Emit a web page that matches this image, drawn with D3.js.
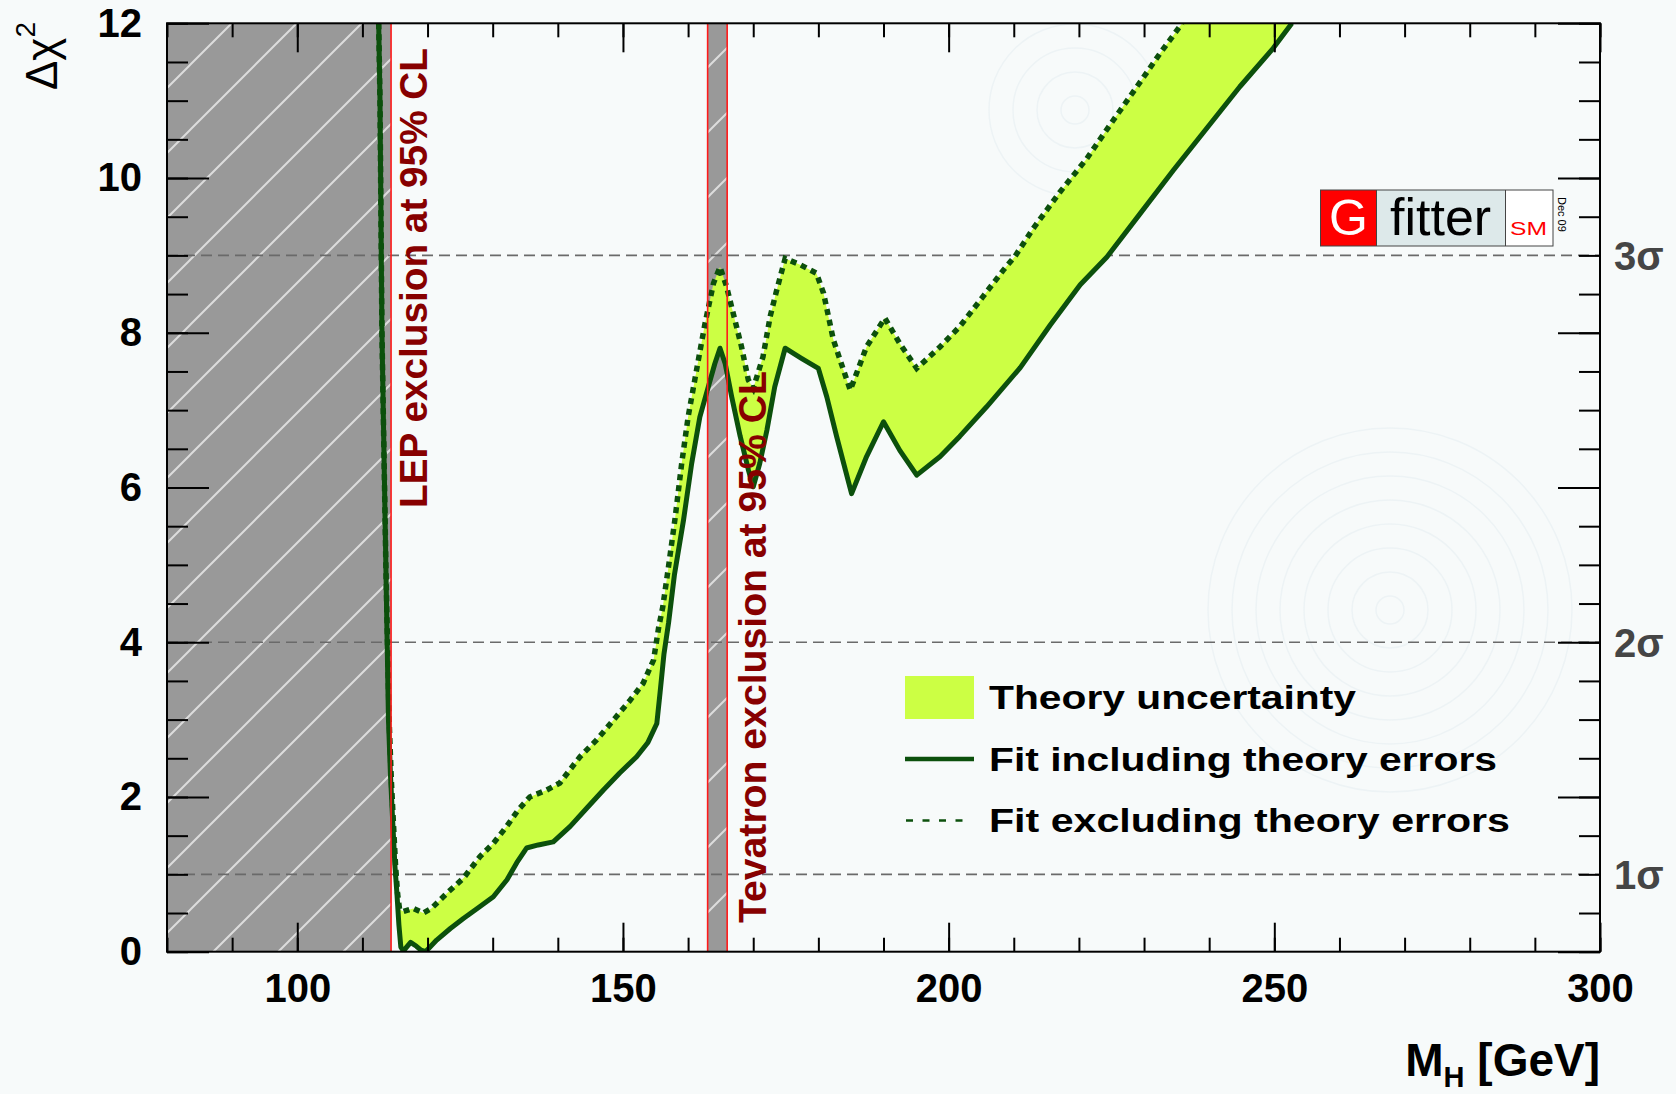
<!DOCTYPE html>
<html>
<head>
<meta charset="utf-8">
<script src="https://cdn.jsdelivr.net/npm/d3@7"></script>
<style>
  html, body { margin: 0; padding: 0; background: #f7fafa; }
  svg { display: block; font-family: "Liberation Sans", Helvetica, Arial, sans-serif; }
</style>
</head>
<body>
<svg id="chart" width="1676" height="1094"></svg>
<script>
// ---- data (M_H in GeV, delta chi2) ----
// fit including theory errors (solid, lower edge of the band)
const fitWithTheory = [
  [112.5, 12.0], [112.7, 11.0], [112.8, 10.0], [112.9, 9.0], [113.0, 8.0], [113.2, 7.0],
  [113.4, 6.0], [113.6, 5.0], [113.8, 4.0], [114.0, 3.0], [114.3, 2.3], [114.7, 1.6],
  [115.0, 1.1], [115.3, 0.75], [115.6, 0.35], [115.9, 0.06], [116.3, 0.01], [117.4, 0.12],
  [118.3, 0.07], [119.0, 0.02], [119.7, 0.0], [121.4, 0.15], [123.5, 0.30], [125.5, 0.43],
  [128.0, 0.58], [130.1, 0.71], [132.2, 0.93], [133.7, 1.15], [135.2, 1.34], [137.0, 1.38],
  [139.3, 1.42], [141.9, 1.62], [144.5, 1.86], [147.0, 2.09], [149.5, 2.31], [152.1, 2.52],
  [153.8, 2.70], [155.2, 2.95], [155.7, 3.35], [156.3, 3.85], [157.0, 4.25], [157.9, 4.87],
  [159.3, 5.58], [160.55, 6.31], [161.8, 6.91], [163.1, 7.30], [164.1, 7.60], [164.9, 7.80],
  [165.7, 7.60], [166.7, 7.17], [168.0, 6.66], [169.25, 6.23], [170.0, 6.01], [171.0, 6.31],
  [172.1, 6.74], [173.3, 7.30], [174.9, 7.80], [177.4, 7.67], [180.0, 7.54], [181.3, 7.17],
  [182.8, 6.66], [185.1, 5.92], [187.4, 6.40], [190.0, 6.85], [192.5, 6.48], [195.1, 6.16],
  [198.7, 6.40], [201.7, 6.66], [205.8, 7.04], [211.0, 7.55], [215.6, 8.10], [220.2, 8.62],
  [224.3, 8.98], [229.4, 9.54], [234.5, 10.10], [239.6, 10.64], [244.7, 11.18], [249.85, 11.68],
  [252.7, 12.0]
];
// fit excluding theory errors (dotted, upper edge of the band)
const fitWithoutTheory = [
  [112.5, 12.0], [112.7, 11.0], [112.8, 10.0], [112.9, 9.0], [113.0, 8.0], [113.2, 7.0],
  [113.4, 6.0], [113.6, 5.0], [113.85, 4.0], [114.1, 3.0], [114.45, 2.2], [114.8, 1.6],
  [115.1, 1.1], [115.4, 0.75], [115.7, 0.55], [116.3, 0.52], [117.8, 0.56], [119.35, 0.50],
  [120.6, 0.56], [122.9, 0.75], [125.5, 0.95], [128.05, 1.23], [130.1, 1.40], [132.15, 1.62],
  [133.9, 1.83], [135.7, 2.00], [138.3, 2.09], [140.3, 2.18], [143.4, 2.52], [146.0, 2.74],
  [149.0, 3.04], [151.1, 3.25], [153.1, 3.47], [154.7, 3.77], [155.5, 4.20], [156.1, 4.45],
  [157.0, 4.98], [158.0, 5.60], [159.0, 6.30], [160.0, 6.91], [161.3, 7.52], [162.6, 8.12],
  [163.9, 8.64], [164.9, 8.85], [165.9, 8.60], [167.2, 8.16], [168.2, 7.82], [169.25, 7.39],
  [170.0, 7.28], [171.5, 7.69], [172.6, 8.21], [173.6, 8.55], [174.9, 8.96], [177.2, 8.88],
  [179.7, 8.77], [180.8, 8.51], [182.3, 7.91], [183.85, 7.52], [184.9, 7.26], [187.4, 7.82],
  [190.2, 8.19], [192.5, 7.86], [195.1, 7.54], [198.7, 7.82], [201.7, 8.08], [205.3, 8.47],
  [208.4, 8.81], [210.2, 8.99], [213.0, 9.35], [217.1, 9.82], [221.2, 10.25], [225.3, 10.75],
  [228.9, 11.18], [232.45, 11.61], [235.85, 12.0]
];

const massRange = [80, 300];
const chi2Range = [0, 12];
const lepLimit = 114.4;          // LEP 95% CL lower limit
const tevatronBand = [163, 166]; // Tevatron 95% CL excluded window
const sigmaLevels = [1, 4, 9];
const sigmaLabels = ["1σ", "2σ", "3σ"];
const xLabelTicks = [100, 150, 200, 250, 300];
const yLabelTicks = [0, 2, 4, 6, 8, 10, 12];
const legendLabels = ["Theory uncertainty", "Fit including theory errors", "Fit excluding theory errors"];

// ---- layout ----
const L = 167, R = 1600, T = 23.3, B = 951.7;
const green = "#0c500c", lime = "#ccff44", darkRed = "#870000";

const svg = d3.select("#chart");
const x = d3.scaleLinear().domain(massRange).range([L, R]);
const y = d3.scaleLinear().domain(chi2Range).range([B, T]);

const defs = svg.append("defs");
defs.append("clipPath").attr("id", "plotClip")
  .append("rect").attr("x", L).attr("y", T).attr("width", R - L).attr("height", B - T);
// white diagonal hatching for the excluded regions
const hatch = defs.append("pattern").attr("id", "hatch")
  .attr("patternUnits", "userSpaceOnUse").attr("x", 60).attr("y", 0)
  .attr("width", 65).attr("height", 65);
hatch.append("rect").attr("width", 65).attr("height", 65).attr("fill", "#999999");
hatch.append("path").attr("d", "M0,65L65,0M-10,10L10,-10M55,75L75,55")
  .attr("stroke", "#dcdcdc").attr("stroke-width", 2);

// faint watermark in the background
const wm = svg.append("g").attr("fill", "none").attr("stroke", "#edf3f5").attr("stroke-width", 1.5);
[[1390, 610, 8], [1075, 110, 4]].forEach(([cx, cy, n]) => {
  d3.range(n).forEach(i => wm.append("circle").attr("cx", cx).attr("cy", cy).attr("r", 14 + i * 24));
});

const plot = svg.append("g").attr("clip-path", "url(#plotClip)");

// excluded regions
plot.append("rect").attr("x", x(massRange[0])).attr("y", T)
  .attr("width", x(lepLimit) - x(massRange[0])).attr("height", B - T).attr("fill", "url(#hatch)");
plot.append("rect").attr("x", x(tevatronBand[0])).attr("y", T)
  .attr("width", x(tevatronBand[1]) - x(tevatronBand[0])).attr("height", B - T).attr("fill", "url(#hatch)");

// sigma reference lines
plot.selectAll(".sig").data(sigmaLevels).join("line")
  .attr("x1", L).attr("x2", R).attr("y1", d => y(d)).attr("y2", d => y(d))
  .attr("stroke", "#6a6a6a").attr("stroke-width", 1.6).attr("stroke-dasharray", "11,6");

// theory uncertainty band
const line = d3.line().x(d => x(d[0])).y(d => y(d[1]));
plot.append("path")
  .attr("d", line(fitWithoutTheory.concat(fitWithTheory.slice().reverse())) + "Z")
  .attr("fill", lime);
plot.append("path").attr("d", line(fitWithTheory))
  .attr("fill", "none").attr("stroke", green).attr("stroke-width", 5).attr("stroke-linejoin", "round");
plot.append("path").attr("d", line(fitWithoutTheory))
  .attr("fill", "none").attr("stroke", green).attr("stroke-width", 5.5).attr("stroke-dasharray", "6,5");

// red limit lines
plot.selectAll(".lim").data([lepLimit, tevatronBand[0], tevatronBand[1]]).join("line")
  .attr("x1", d => x(d)).attr("x2", d => x(d)).attr("y1", T).attr("y2", B)
  .attr("stroke", "#ff1a1a").attr("stroke-width", 1.6);

// ---- axes (ticks inside on all four sides) ----
function clean(g) {
  g.select(".domain").remove();
  g.selectAll("line").attr("stroke", "#000").attr("stroke-width", 2);
  g.selectAll("text").attr("fill", "#000");
  g.attr("font-family", null).attr("font-size", 40).attr("font-weight", "bold");
}
const xMinor = d3.range(80, 301, 10), yMinor = d3.range(0, 12.01, 0.5);
svg.append("g").attr("transform", `translate(0,${B})`)
  .call(d3.axisBottom(x).tickValues(xMinor).tickSize(-14).tickFormat("")).call(clean);
svg.append("g").attr("transform", `translate(0,${B})`)
  .call(d3.axisBottom(x).tickValues(xLabelTicks).tickSize(-29).tickPadding(21.6).tickFormat(d3.format("d"))).call(clean);
svg.append("g").attr("transform", `translate(0,${T})`)
  .call(d3.axisTop(x).tickValues(xMinor).tickSize(-14).tickFormat("")).call(clean);
svg.append("g").attr("transform", `translate(0,${T})`)
  .call(d3.axisTop(x).tickValues(xLabelTicks).tickSize(-29).tickFormat("")).call(clean);
svg.append("g").attr("transform", `translate(${L},0)`)
  .call(d3.axisLeft(y).tickValues(yMinor).tickSize(-21).tickFormat("")).call(clean);
svg.append("g").attr("transform", `translate(${L},0)`)
  .call(d3.axisLeft(y).tickValues(yLabelTicks).tickSize(-42).tickPadding(25).tickFormat(d3.format("d"))).call(clean);
svg.append("g").attr("transform", `translate(${R},0)`)
  .call(d3.axisRight(y).tickValues(yMinor).tickSize(-21).tickFormat("")).call(clean);
svg.append("g").attr("transform", `translate(${R},0)`)
  .call(d3.axisRight(y).tickValues(yLabelTicks).tickSize(-42).tickFormat("")).call(clean);

svg.append("rect").attr("x", L).attr("y", T).attr("width", R - L).attr("height", B - T)
  .attr("fill", "none").attr("stroke", "#000").attr("stroke-width", 2);

// exclusion labels
svg.append("text").attr("transform", `translate(427,508) rotate(-90)`)
  .attr("font-size", 38).attr("font-weight", "bold").attr("fill", darkRed)
  .attr("textLength", 460).attr("lengthAdjust", "spacingAndGlyphs")
  .text("LEP exclusion at 95% CL");
svg.append("text").attr("transform", `translate(766,923) rotate(-90)`)
  .attr("font-size", 38).attr("font-weight", "bold").attr("fill", darkRed)
  .attr("textLength", 552).attr("lengthAdjust", "spacingAndGlyphs")
  .text("Tevatron exclusion at 95% CL");

// sigma labels on the right
svg.selectAll(".sigLab").data(sigmaLevels).join("text")
  .attr("x", R + 14).attr("y", d => y(d)).attr("dy", "0.36em")
  .attr("font-size", 40).attr("font-weight", "bold").attr("fill", "#454545")
  .text((d, i) => sigmaLabels[i]);

// axis titles
const yt = svg.append("text").attr("transform", "translate(57,22) rotate(-90)")
  .attr("text-anchor", "end").attr("font-size", 44).attr("fill", "#000");
yt.append("tspan").text("Δχ");
yt.append("tspan").attr("dy", -22).attr("font-size", 28).text("2");

const xt = svg.append("text").attr("x", R).attr("y", 1076)
  .attr("text-anchor", "end").attr("font-size", 46).attr("font-weight", "bold").attr("fill", "#000");
xt.append("tspan").text("M");
xt.append("tspan").attr("dy", 11).attr("font-size", 29).text("H");
xt.append("tspan").attr("dy", -11).text(" [GeV]");

// ---- legend ----
const legendTop = 676, rowStep = 61.5;
const legendWidths = [367, 508, 521];
const lg = svg.append("g");
lg.append("rect").attr("x", 905).attr("y", legendTop).attr("width", 69).attr("height", 43).attr("fill", lime);
lg.append("line").attr("x1", 905).attr("x2", 974)
  .attr("y1", legendTop + 21.5 + rowStep).attr("y2", legendTop + 21.5 + rowStep)
  .attr("stroke", green).attr("stroke-width", 4.5);
lg.append("line").attr("x1", 906).attr("x2", 966)
  .attr("y1", legendTop + 21.5 + 2 * rowStep).attr("y2", legendTop + 21.5 + 2 * rowStep)
  .attr("stroke", green).attr("stroke-width", 2.5).attr("stroke-dasharray", "7,9.5");
lg.selectAll("text").data(legendLabels).join("text")
  .attr("x", 989).attr("y", (d, i) => legendTop + 33 + i * rowStep)
  .attr("font-size", 34).attr("font-weight", "bold").attr("fill", "#000")
  .attr("textLength", (d, i) => legendWidths[i]).attr("lengthAdjust", "spacingAndGlyphs")
  .text(d => d);

// ---- Gfitter logo ----
const logo = svg.append("g");
logo.append("rect").attr("x", 1320.5).attr("y", 190).attr("width", 56).attr("height", 56).attr("fill", "#ff0000");
logo.append("rect").attr("x", 1376.5).attr("y", 190).attr("width", 129).attr("height", 56).attr("fill", "#dde9ea");
logo.append("rect").attr("x", 1505.5).attr("y", 190).attr("width", 47.5).attr("height", 56).attr("fill", "#ffffff");
logo.append("rect").attr("x", 1320.5).attr("y", 190).attr("width", 232.5).attr("height", 56)
  .attr("fill", "none").attr("stroke", "#444").attr("stroke-width", 1);
logo.append("line").attr("x1", 1376.5).attr("x2", 1376.5).attr("y1", 190).attr("y2", 246).attr("stroke", "#444");
logo.append("line").attr("x1", 1505.5).attr("x2", 1505.5).attr("y1", 190).attr("y2", 246).attr("stroke", "#444");
logo.append("text").attr("x", 1348.5).attr("y", 235).attr("text-anchor", "middle")
  .attr("font-size", 50).attr("fill", "#fff").text("G");
logo.append("text").attr("x", 1390).attr("y", 235)
  .attr("font-size", 52).attr("fill", "#000").text("fitter");
logo.append("text").attr("x", 1510).attr("y", 235)
  .attr("font-size", 19).attr("fill", "#ff0000")
  .attr("textLength", 37).attr("lengthAdjust", "spacingAndGlyphs").text("SM");
logo.append("text").attr("transform", "translate(1558,197) rotate(90)")
  .attr("font-size", 11).attr("fill", "#000").text("Dec 09");
</script>
</body>
</html>
